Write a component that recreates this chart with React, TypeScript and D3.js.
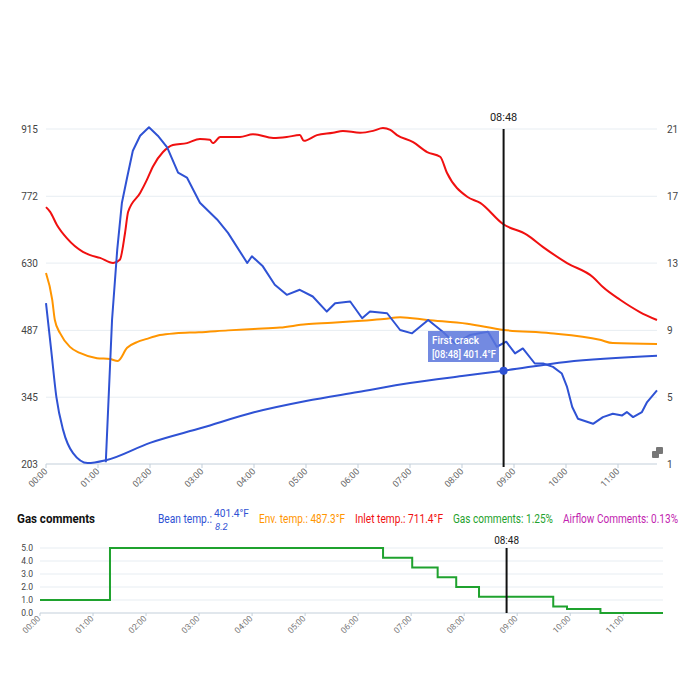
import React from "react";
import * as d3 from "d3";

// ---- Data (time in minutes) ----
const beanTempT = [0, 0.1, 0.2, 0.33, 0.52, 0.8, 1.15, 2.0, 3.0, 4.0, 5.0, 6.0, 7.0, 8.0, 8.8, 10.0, 11.75];
const beanTempV = [545, 445, 345, 275, 226, 205, 211, 248, 280, 313, 337, 356, 375, 390, 401.4, 420, 433];

const rorT = [1.15, 1.27, 1.37, 1.46, 1.56, 1.67, 1.81, 1.98, 2.15, 2.33, 2.54, 2.71, 2.96, 3.29, 3.5, 3.87, 3.96, 4.17, 4.4, 4.63, 4.88, 5.13, 5.4, 5.56, 5.85, 6.08, 6.23, 6.56, 6.81, 7.04, 7.35, 7.63, 7.87, 8.15, 8.5, 8.67, 8.85, 9.02, 9.17, 9.4, 9.56, 9.75, 9.92, 10.02, 10.12, 10.23, 10.52, 10.71, 10.9, 11.08, 11.17, 11.29, 11.46, 11.56, 11.75];
const rorV = [1.1, 9.6, 13.8, 16.6, 18.1, 19.7, 20.6, 21.1, 20.6, 19.9, 18.4, 18.1, 16.6, 15.6, 14.8, 13.0, 13.4, 12.8, 11.7, 11.1, 11.4, 11.0, 10.1, 10.6, 10.7, 9.7, 10.1, 10.0, 9.0, 8.8, 9.6, 8.9, 8.2, 8.7, 8.9, 8.0, 8.3, 7.6, 7.9, 7.0, 7.0, 6.8, 6.4, 5.6, 4.4, 3.7, 3.4, 3.8, 4.0, 3.9, 4.1, 3.8, 4.1, 4.7, 5.4];

const envT = [0, 0.12, 0.17, 0.27, 0.46, 0.65, 0.98, 1.23, 1.38, 1.56, 1.75, 1.94, 2.19, 2.5, 2.94, 3.5, 4.0, 4.5, 5.0, 5.5, 6.0, 6.5, 6.81, 7.33, 8.1, 8.8, 9.7, 10.65, 10.9, 11.75];
const envV = [609, 552, 509, 481, 452, 439, 428, 426, 422, 450, 462, 469, 477, 481, 483, 487, 490, 493, 500, 503, 507, 511, 515, 509, 501, 488, 481, 467, 460, 458];

const inletT = [0, 0.08, 0.21, 0.4, 0.71, 0.85, 1.04, 1.29, 1.42, 1.52, 1.58, 1.81, 1.94, 2.06, 2.25, 2.44, 2.71, 2.96, 3.15, 3.21, 3.35, 3.73, 3.98, 4.37, 4.63, 4.88, 4.96, 5.21, 5.52, 5.71, 6.04, 6.29, 6.48, 6.62, 6.75, 7.06, 7.33, 7.58, 7.71, 8.1, 8.35, 8.79, 9.25, 9.56, 10.02, 10.52, 10.71, 11.04, 11.42, 11.75];
const inletV = [749, 739, 711, 683, 654, 647, 641, 630, 637, 694, 739, 779, 807, 836, 866, 881, 885, 894, 892, 885, 898, 898, 904, 896, 898, 902, 890, 902, 907, 911, 907, 911, 917, 913, 902, 887, 866, 856, 822, 771, 758, 713, 690, 664, 630, 600, 579, 552, 526, 509];

const gasT = [0, 1.32, 6.47, 7.02, 7.5, 7.85, 8.28, 9.68, 9.94, 10.57, 11.75];
const gasV = [1.0, 5.0, 4.25, 3.5, 2.75, 2.0, 1.25, 0.5, 0.3, 0.0, 0.0];

const leftTicks = [203, 345, 487, 630, 772, 915];
const rightTicks = [1, 5, 9, 13, 17, 21];
const gasTicks = [0, 1, 2, 3, 4, 5];
const timeTicks = [0, 1, 2, 3, 4, 5, 6, 7, 8, 9, 10, 11];
const markerT = 8.8;
const markerV = 401.4;

const BLUE = "#2f52d4";
const RED = "#f01010";
const ORANGE = "#ff9500";
const GREEN = "#1fa22e";
const MAGENTA = "#c21fb0";
const GRID = "#e7edf2";
const FONT = "Roboto, 'Noto Sans', sans-serif";

const fmtTime = (m: number) => {
  const mm = Math.floor(m + 1e-9);
  const ss = Math.round((m - mm) * 60);
  return `${String(mm).padStart(2, "0")}:${String(ss).padStart(2, "0")}`;
};

export default function App() {
  const x = d3.scaleLinear().domain([0, 11.75]).range([46, 657]);
  const yL = d3.scaleLinear().domain([203, 915]).range([464, 129]);
  const yR = d3.scaleLinear().domain([1, 21]).range([464, 129]);
  const xg = d3.scaleLinear().domain([0, 11.75]).range([40, 663]);
  const yg = d3.scaleLinear().domain([0, 5]).range([613, 548]);

  const mk = (ts: number[], vs: number[], sx: any, sy: any, curve: any = d3.curveLinear) =>
    d3.line<number>().x((_, i) => sx(ts[i])).y((v) => sy(v)).curve(curve)(vs) || "";

  const beanPath = mk(beanTempT, beanTempV, x, yL, d3.curveMonotoneX);
  const rorPath = mk(rorT, rorV, x, yR);
  const envPath = mk(envT, envV, x, yL, d3.curveMonotoneX);
  const inletPath = mk(inletT, inletV, x, yL, d3.curveMonotoneX);
  const gasPath = mk(gasT, gasV, xg, yg, d3.curveStepAfter);

  const mx = x(markerT);
  const my = yL(markerV);
  const gmx = xg(markerT);
  const fit = { lengthAdjust: "spacingAndGlyphs" as const };

  return (
    <svg width={700} height={700} style={{ position: "absolute", left: 0, top: 0, background: "#fff" }} fontFamily={FONT}>
      {/* main grid */}
      {leftTicks.map((t, i) => (
        <g key={"l" + i}>
          <line x1={46} x2={657} y1={yL(t)} y2={yL(t)} stroke={i === 0 ? "#c3cfda" : GRID} strokeWidth={1} />
          <text x={38} y={yL(t) + 3.5} textAnchor="end" fontSize={10} fill="#444">{t}</text>
        </g>
      ))}
      {rightTicks.map((t, i) => (
        <text key={"r" + i} x={667} y={yR(t) + 3.5} fontSize={10} fill="#444">{t}</text>
      ))}
      {timeTicks.map((t) => (
        <g key={"t" + t}>
          <line x1={x(t)} x2={x(t)} y1={464} y2={468} stroke="#c3cfda" />
          <text transform={`translate(${x(t) + 2},${472}) rotate(-45)`} textAnchor="end" fontSize={9} fill="#666">{fmtTime(t)}</text>
        </g>
      ))}

      {/* series */}
      <path d={envPath} fill="none" stroke={ORANGE} strokeWidth={2} />
      <path d={inletPath} fill="none" stroke={RED} strokeWidth={2} />
      <path d={beanPath} fill="none" stroke={BLUE} strokeWidth={2} />
      <path d={rorPath} fill="none" stroke={BLUE} strokeWidth={2} strokeLinejoin="round" />

      {/* marker line */}
      <line x1={mx} x2={mx} y1={129} y2={467} stroke="#111" strokeWidth={2} />
      <text x={mx} y={121} textAnchor="middle" fontSize={11} fill="#222">{fmtTime(markerT)}</text>

      {/* tooltip */}
      <rect x={428} y={331} width={71} height={31} fill="#5a76dc" opacity={0.85} />
      <text x={432} y={344} fontSize={10} fill="#fff" fontWeight={500} textLength={47} {...fit}>First crack</text>
      <text x={432} y={358} fontSize={10} fill="#fff" fontWeight={500} textLength={64} {...fit}>[{fmtTime(markerT)}] {markerV}°F</text>
      <circle cx={mx} cy={my} r={4} fill={BLUE} />

      {/* small icon */}
      <g fill="#777">
        <rect x={652} y={451} width={7} height={7} rx={1} />
        <rect x={656} y={447} width={7} height={7} rx={1} />
      </g>

      {/* legend */}
      <text x={17} y={523} fontSize={13} fontWeight={700} fill="#111" textLength={78} {...fit}>Gas comments</text>
      <text x={158} y={523} fontSize={12} fill={BLUE} textLength={54} {...fit}>Bean temp.:</text>
      <text x={214} y={517} fontSize={11.5} fill={BLUE} textLength={35} {...fit}>401.4°F</text>
      <text x={215} y={530} fontSize={9.5} fontStyle="italic" fill={BLUE}>8.2</text>
      <text x={259} y={523} fontSize={12} fill={ORANGE} textLength={86} {...fit}>Env. temp.: 487.3°F</text>
      <text x={355} y={523} fontSize={12} fill={RED} textLength={88} {...fit}>Inlet temp.: 711.4°F</text>
      <text x={453} y={523} fontSize={12} fill={GREEN} textLength={100} {...fit}>Gas comments: 1.25%</text>
      <text x={563} y={523} fontSize={12} fill={MAGENTA} textLength={115} {...fit}>Airflow Comments: 0.13%</text>

      {/* gas chart */}
      {gasTicks.map((t) => (
        <g key={"g" + t}>
          <line x1={40} x2={663} y1={yg(t)} y2={yg(t)} stroke={t === 0 ? "#c3cfda" : GRID} />
          <text x={33} y={yg(t) + 3} textAnchor="end" fontSize={8.5} fill="#444">{t.toFixed(1)}</text>
        </g>
      ))}
      {timeTicks.map((t) => (
        <g key={"gt" + t}>
          <line x1={xg(t)} x2={xg(t)} y1={613} y2={616} stroke="#c3cfda" />
          <text transform={`translate(${xg(t) + 1},${619}) rotate(-45)`} textAnchor="end" fontSize={8.5} fill="#777">{fmtTime(t)}</text>
        </g>
      ))}
      <path d={gasPath} fill="none" stroke={GREEN} strokeWidth={2} />
      <line x1={gmx} x2={gmx} y1={548} y2={613} stroke="#111" strokeWidth={2} />
      <text x={gmx} y={544} textAnchor="middle" fontSize={10} fill="#222">{fmtTime(markerT)}</text>
    </svg>
  );
}
